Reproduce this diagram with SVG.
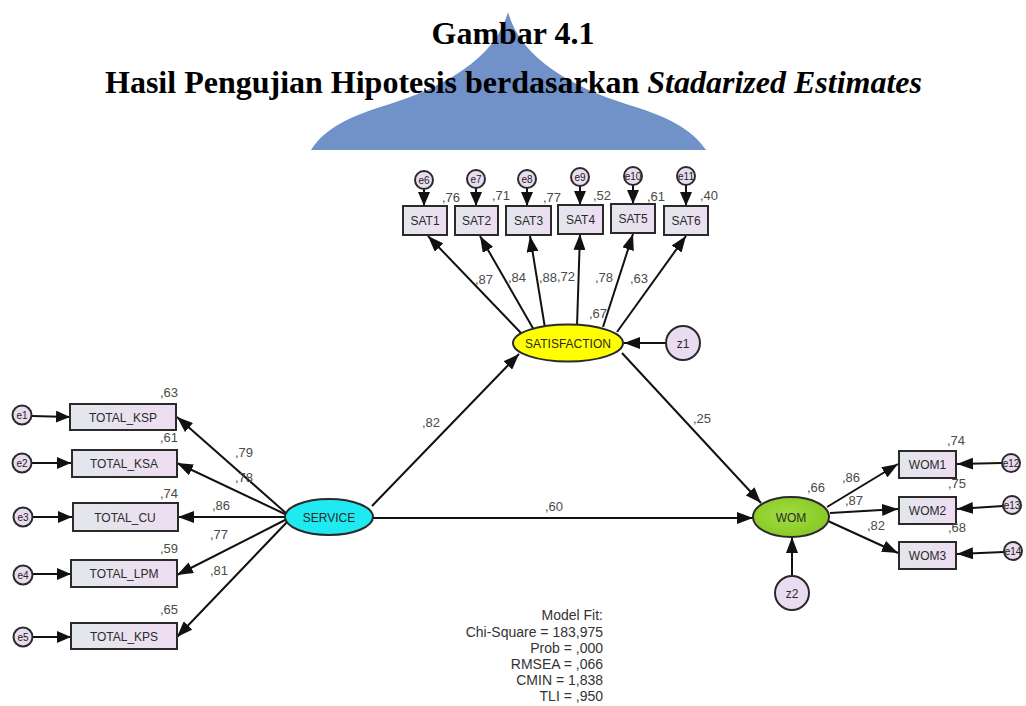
<svg xmlns="http://www.w3.org/2000/svg" width="1026" height="706" viewBox="0 0 1026 706">
<defs>
<linearGradient id="boxg" x1="0" y1="0" x2="1" y2="0">
<stop offset="0" stop-color="#E2E7EC"/>
<stop offset="1" stop-color="#EEDDF1"/>
</linearGradient>
<radialGradient id="womg" cx="0.45" cy="0.45" r="0.6">
<stop offset="0" stop-color="#A2DC40"/>
<stop offset="1" stop-color="#86C824"/>
</radialGradient>
<marker id="ah" markerUnits="userSpaceOnUse" markerWidth="16" markerHeight="12" refX="16" refY="6" orient="auto">
<path d="M0,0 L16,6 L0,12 Z" fill="#111"/>
</marker>
<marker id="ahs" markerUnits="userSpaceOnUse" markerWidth="14" markerHeight="12" refX="14" refY="6" orient="auto">
<path d="M0,0 L14,6 L0,12 Z" fill="#111"/>
</marker>
</defs>
<style>
.title{font-family:"Liberation Serif","Times New Roman",serif;font-weight:bold;font-size:32px;fill:#000}
.box{fill:url(#boxg);stroke:#2a2a2a;stroke-width:2}
.lbl{font-family:"Liberation Sans",Arial,sans-serif;font-size:12px;fill:#2a2a2a;text-anchor:middle}
.val{font-family:"Liberation Sans",Arial,sans-serif;font-size:13px;fill:#4a4a4a}
.err{fill:#E9DCF0;stroke:#2a2a2a;stroke-width:2}
.etx{font-family:"Liberation Sans",Arial,sans-serif;font-size:10px;fill:#222;text-anchor:middle}
.ln{stroke:#111;stroke-width:2;fill:none;marker-end:url(#ah)}
.lns{stroke:#111;stroke-width:2;fill:none;marker-end:url(#ahs)}
.fit{font-family:"Liberation Sans",Arial,sans-serif;font-size:14px;fill:#333;text-anchor:end}
</style>
<rect width="1026" height="706" fill="#fff"/>
<path d="M311,150 C325,128 350,116 390,104 C440,88 495,60 508,12 C521,60 576,88 626,104 C666,116 691,128 706,150 Z" fill="#7191C9"/>
<text class="title" x="513" y="44" text-anchor="middle">Gambar 4.1</text>
<text class="title" x="513.5" y="93" text-anchor="middle">Hasil Pengujian Hipotesis berdasarkan <tspan font-style="italic">Stadarized Estimates</tspan></text>

<g id="connectors">
<line class="ln" x1="372" y1="506" x2="519" y2="354"/>
<line class="ln" x1="622" y1="353" x2="761" y2="503"/>
<line class="ln" x1="373" y1="518" x2="753" y2="518"/>
<line class="ln" x1="666" y1="343" x2="624" y2="343"/>
<line class="ln" x1="792" y1="576" x2="792" y2="537"/>
<line class="ln" x1="287" y1="514" x2="177" y2="417"/>
<line class="ln" x1="287" y1="515" x2="177" y2="463"/>
<line class="ln" x1="287" y1="517" x2="178" y2="517"/>
<line class="ln" x1="287" y1="519" x2="177" y2="575"/>
<line class="ln" x1="288" y1="521" x2="177" y2="637"/>
<line class="lns" x1="32" y1="416" x2="70" y2="417"/>
<line class="lns" x1="32" y1="463" x2="71" y2="463"/>
<line class="lns" x1="33" y1="517" x2="72" y2="517"/>
<line class="lns" x1="33" y1="574" x2="71" y2="574"/>
<line class="lns" x1="33" y1="637" x2="71" y2="637"/>
<line class="ln" x1="521" y1="333" x2="428" y2="236"/>
<line class="ln" x1="534" y1="330" x2="480" y2="236"/>
<line class="ln" x1="545" y1="328" x2="530" y2="236"/>
<line class="ln" x1="577" y1="326" x2="580" y2="234"/>
<line class="ln" x1="603" y1="327" x2="633" y2="234"/>
<line class="ln" x1="617" y1="332" x2="686" y2="236"/>
<line class="lns" x1="424" y1="188" x2="424" y2="206"/>
<line class="lns" x1="476" y1="187" x2="476" y2="206"/>
<line class="lns" x1="527" y1="187" x2="527" y2="206"/>
<line class="lns" x1="580" y1="185" x2="580" y2="205"/>
<line class="lns" x1="633" y1="184" x2="633" y2="204"/>
<line class="lns" x1="686" y1="184" x2="686" y2="206"/>
<line class="ln" x1="827" y1="507" x2="898" y2="464"/>
<line class="ln" x1="830" y1="513" x2="898" y2="509"/>
<line class="ln" x1="828" y1="521" x2="898" y2="553"/>
<line class="ln" x1="1002" y1="463" x2="957" y2="464"/>
<line class="ln" x1="1003" y1="506" x2="957" y2="509"/>
<line class="ln" x1="1004" y1="552" x2="957" y2="554"/>
</g>

<g id="SATISFACTION">
<ellipse cx="568" cy="343" rx="55" ry="18.5" fill="#FFFF00" stroke="#2a2a2a" stroke-width="2"/>
<text class="lbl" x="568" y="347.5">SATISFACTION</text>
<text class="val" x="589" y="318">,67</text>
</g>
<g id="SERVICE">
<ellipse cx="329" cy="517" rx="44" ry="18" fill="#1FEAF2" stroke="#2a2a2a" stroke-width="2"/>
<text class="lbl" x="329" y="521.5">SERVICE</text>
</g>
<g id="WOM">
<ellipse cx="791" cy="517" rx="38" ry="20" fill="url(#womg)" stroke="#2a2a2a" stroke-width="2"/>
<text class="lbl" x="791" y="521.5">WOM</text>
<text class="val" x="807" y="492">,66</text>
</g>
<g id="z1"><circle class="err" cx="683" cy="343" r="17"/><text class="lbl" x="683" y="347.5">z1</text></g>
<g id="z2"><circle class="err" cx="792" cy="593" r="17"/><text class="lbl" x="792" y="597.5">z2</text></g>

<g id="TOTAL_KSP"><rect class="box" x="70" y="404" width="106" height="26"/><text class="lbl" x="123" y="421.5">TOTAL_KSP</text><text class="val" x="160" y="397">,63</text></g>
<g id="TOTAL_KSA"><rect class="box" x="72" y="450" width="105" height="27"/><text class="lbl" x="124" y="468">TOTAL_KSA</text><text class="val" x="160" y="442">,61</text></g>
<g id="TOTAL_CU"><rect class="box" x="73" y="503" width="105" height="28"/><text class="lbl" x="125" y="521.5">TOTAL_CU</text><text class="val" x="160" y="498">,74</text></g>
<g id="TOTAL_LPM"><rect class="box" x="71" y="560" width="106" height="27"/><text class="lbl" x="124" y="578">TOTAL_LPM</text><text class="val" x="160" y="553">,59</text></g>
<g id="TOTAL_KPS"><rect class="box" x="71" y="623" width="106" height="26"/><text class="lbl" x="124" y="640.5">TOTAL_KPS</text><text class="val" x="160" y="614">,65</text></g>

<g id="e1"><circle class="err" cx="22" cy="415" r="9.5"/><text class="etx" x="22" y="418.5">e1</text></g>
<g id="e2"><circle class="err" cx="22" cy="463" r="9.5"/><text class="etx" x="22" y="466.5">e2</text></g>
<g id="e3"><circle class="err" cx="23" cy="517" r="9.5"/><text class="etx" x="23" y="520.5">e3</text></g>
<g id="e4"><circle class="err" cx="23" cy="575" r="9.5"/><text class="etx" x="23" y="578.5">e4</text></g>
<g id="e5"><circle class="err" cx="23" cy="637" r="9.5"/><text class="etx" x="23" y="640.5">e5</text></g>

<g id="SAT1"><rect class="box" x="403" y="206" width="44" height="29"/><text class="lbl" x="425" y="225">SAT1</text><text class="val" x="442" y="202">,76</text></g>
<g id="SAT2"><rect class="box" x="455" y="206" width="43" height="29"/><text class="lbl" x="476.5" y="225">SAT2</text><text class="val" x="492" y="200">,71</text></g>
<g id="SAT3"><rect class="box" x="506" y="206" width="45" height="29"/><text class="lbl" x="528.5" y="225">SAT3</text><text class="val" x="543" y="202">,77</text></g>
<g id="SAT4"><rect class="box" x="558" y="205" width="45" height="29"/><text class="lbl" x="580.5" y="224">SAT4</text><text class="val" x="593" y="200">,52</text></g>
<g id="SAT5"><rect class="box" x="611" y="204" width="44" height="29"/><text class="lbl" x="633" y="223">SAT5</text><text class="val" x="647" y="201">,61</text></g>
<g id="SAT6"><rect class="box" x="664" y="206" width="44" height="29"/><text class="lbl" x="686" y="225">SAT6</text><text class="val" x="700" y="200">,40</text></g>

<g id="e6"><circle class="err" cx="424" cy="180" r="9"/><text class="etx" x="424" y="183.5">e6</text></g>
<g id="e7"><circle class="err" cx="476" cy="179" r="9"/><text class="etx" x="476" y="182.5">e7</text></g>
<g id="e8"><circle class="err" cx="527" cy="179" r="9"/><text class="etx" x="527" y="182.5">e8</text></g>
<g id="e9"><circle class="err" cx="580" cy="177" r="9"/><text class="etx" x="580" y="180.5">e9</text></g>
<g id="e10"><circle class="err" cx="633" cy="176" r="9"/><text class="etx" x="633" y="179.5">e10</text></g>
<g id="e11"><circle class="err" cx="686" cy="176" r="9"/><text class="etx" x="686" y="179.5">e11</text></g>

<g id="WOM1"><rect class="box" x="899" y="451" width="57" height="27"/><text class="lbl" x="927.5" y="469">WOM1</text><text class="val" x="947" y="445">,74</text></g>
<g id="WOM2"><rect class="box" x="899" y="497" width="57" height="27"/><text class="lbl" x="927.5" y="515">WOM2</text><text class="val" x="948" y="488">,75</text></g>
<g id="WOM3"><rect class="box" x="899" y="542" width="57" height="27"/><text class="lbl" x="927.5" y="560">WOM3</text><text class="val" x="948" y="532">,68</text></g>

<g id="e12"><circle class="err" cx="1011" cy="463" r="9"/><text class="etx" x="1011" y="466.5">e12</text></g>
<g id="e13"><circle class="err" cx="1012" cy="505" r="9"/><text class="etx" x="1012" y="508.5">e13</text></g>
<g id="e14"><circle class="err" cx="1013" cy="551" r="9"/><text class="etx" x="1013" y="554.5">e14</text></g>

<g id="labels">
<text class="val" x="235" y="457">,79</text>
<text class="val" x="235" y="482">,78</text>
<text class="val" x="212" y="510">,86</text>
<text class="val" x="210" y="539">,77</text>
<text class="val" x="210" y="575">,81</text>
<text class="val" x="422" y="427">,82</text>
<text class="val" x="693" y="423">,25</text>
<text class="val" x="545" y="511">,60</text>
<text class="val" x="475" y="284">,87</text>
<text class="val" x="508" y="282">,84</text>
<text class="val" x="539" y="282">,88</text>
<text class="val" x="557" y="281">,72</text>
<text class="val" x="595" y="282">,78</text>
<text class="val" x="630" y="283">,63</text>
<text class="val" x="842" y="482">,86</text>
<text class="val" x="845" y="505">,87</text>
<text class="val" x="867" y="530">,82</text>
</g>

<g id="modelfit">
<text class="fit" x="603" y="620">Model Fit:</text>
<text class="fit" x="603" y="637">Chi-Square = 183,975</text>
<text class="fit" x="603" y="653">Prob = ,000</text>
<text class="fit" x="603" y="669">RMSEA = ,066</text>
<text class="fit" x="603" y="685">CMIN = 1,838</text>
<text class="fit" x="603" y="701">TLI = ,950</text>
</g>
</svg>
